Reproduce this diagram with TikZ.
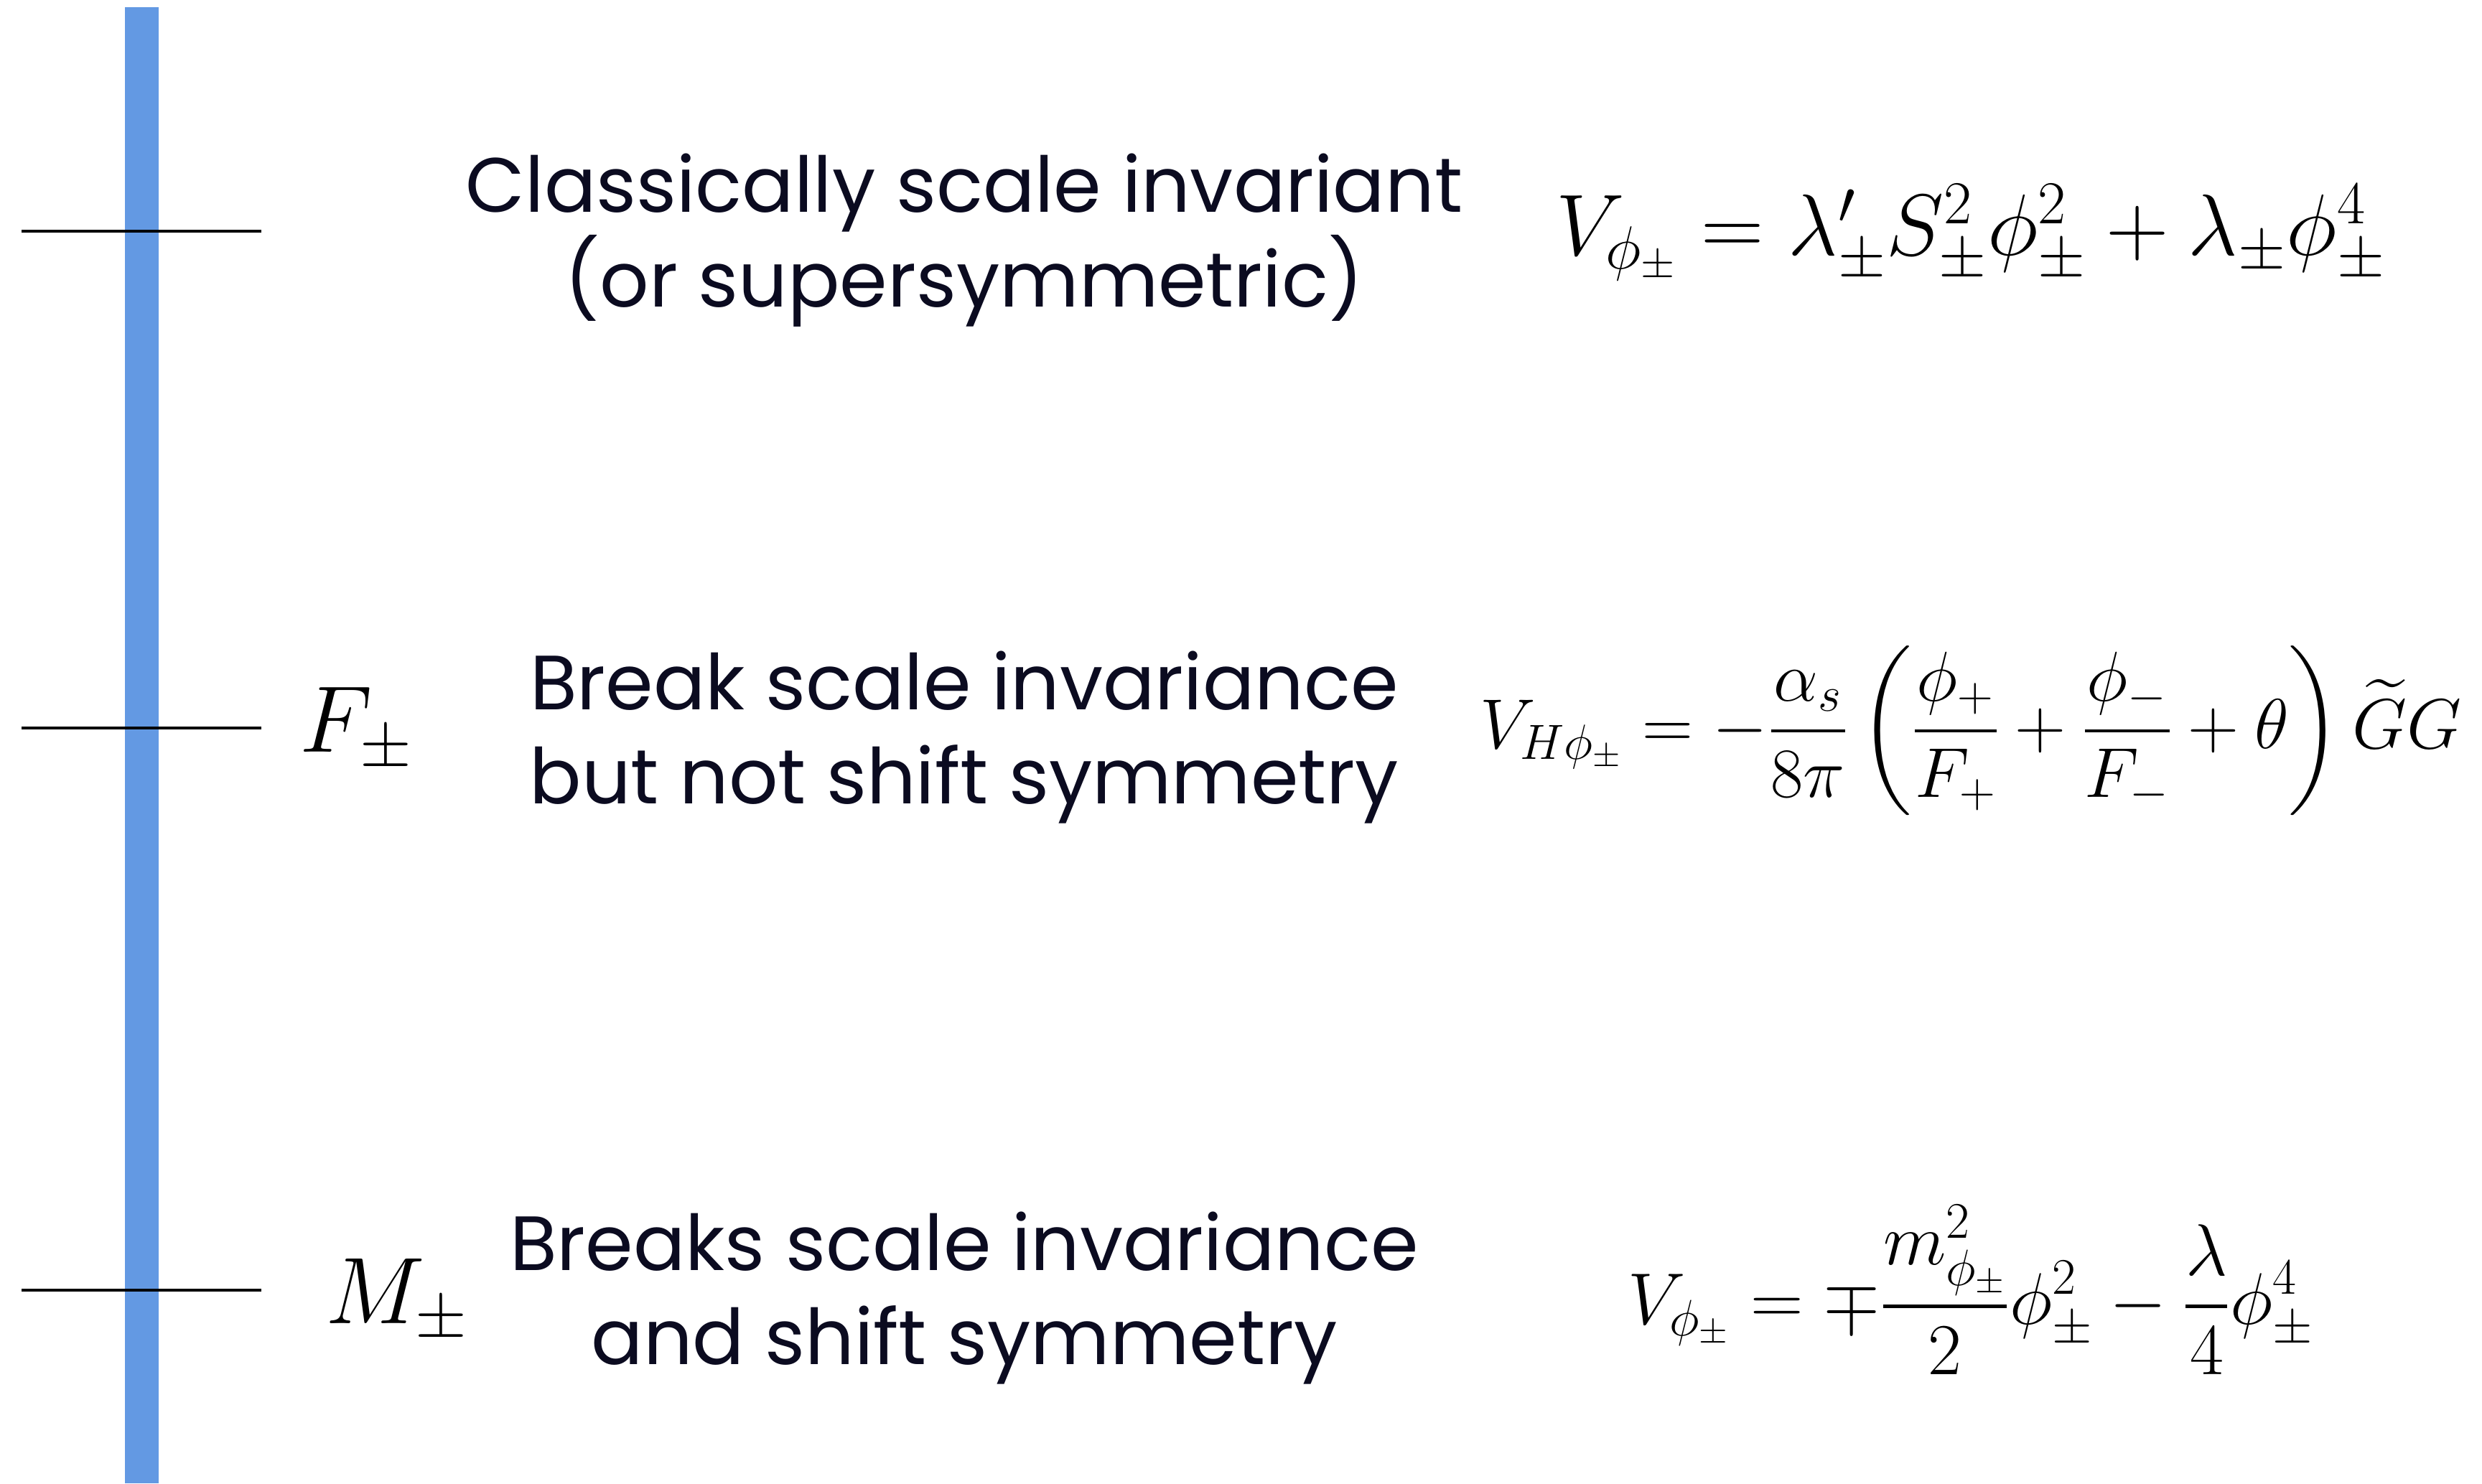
\RequirePackage{fix-cm}
\documentclass[tikz,border=0pt]{standalone}
\usepackage{amsmath,amssymb}
\usepackage{fontspec}
\setmainfont{Poppins}
\definecolor{barblue}{HTML}{6399E3}
\definecolor{inknavy}{HTML}{0B0B20}

\begin{document}
\begin{tikzpicture}[
  tick/.style={black, line width=1.4pt},
  note/.style={inknavy, align=center, font=\fontsize{30.5}{37.5}\selectfont},
  scalelbl/.style={anchor=base, font=\fontsize{37.5}{44}\selectfont},
  eqn/.style={font=\fontsize{28}{33}\selectfont},
]

% ══════════════════════════════════════════════════════
% Frame and energy axis
% ══════════════════════════════════════════════════════
\useasboundingbox (0,0) rectangle (34.57,20.66);
\fill[barblue] (1.74,0) rectangle (2.21,20.56);

% ── Scale ticks ─────────────────────────────────────
\foreach \name/\y in {top/17.44, mid/10.52, low/2.69}{
  \draw[tick] (0.30,\y) coordinate (tick-\name-l) -- (3.64,\y) coordinate (tick-\name);
}

% ══════════════════════════════════════════════════════
% Scale labels
% ══════════════════════════════════════════════════════
\node[scalelbl] (lbl-F) at (4.96,10.18) {$F_\pm$};
\node[scalelbl] (lbl-M) at (5.53,2.23) {$M_\pm$};

% ══════════════════════════════════════════════════════
% Descriptions
% ══════════════════════════════════════════════════════
\pgfmathsetmacro{\xnote}{13.43}  % centre of text column
\node[note] (note-top) at (\xnote,17.31) {Classically scale invariant\\(or supersymmetric)};
\node[note] (note-mid) at (\xnote,10.39) {Break scale invariance\\but not shift symmetry};
\node[note] (note-low) at (\xnote,2.58) {Breaks scale invariance\\and shift symmetry};

% ══════════════════════════════════════════════════════
% Potentials
% ══════════════════════════════════════════════════════
\pgfmathsetmacro{\xeqn}{27.45}   % centre of equation column
\node[eqn, anchor=base, font=\fontsize{34.5}{40}\selectfont] (pot-top) at (\xeqn,17.10)
  {$V_{\phi_\pm} = \lambda'_\pm S^2_\pm \phi^2_\pm + \lambda_\pm \phi^4_\pm$};
\node[eqn] (pot-mid) at (\xeqn,10.48)
  {$\displaystyle V_{H\phi_\pm} = -\frac{\alpha_s}{8\pi}\left(\frac{\phi_+}{F_+} + \frac{\phi_-}{F_-} + \theta\right)\widetilde{G}G$};
\node[eqn, anchor=base, font=\fontsize{29}{34}\selectfont] (pot-low) at (\xeqn,2.21)
  {$\displaystyle V_{\phi_\pm} = \mp\frac{m^2_{\phi_\pm}}{2}\phi^2_\pm - \frac{\lambda}{4}\phi^4_\pm$};

\end{tikzpicture}
\end{document}
